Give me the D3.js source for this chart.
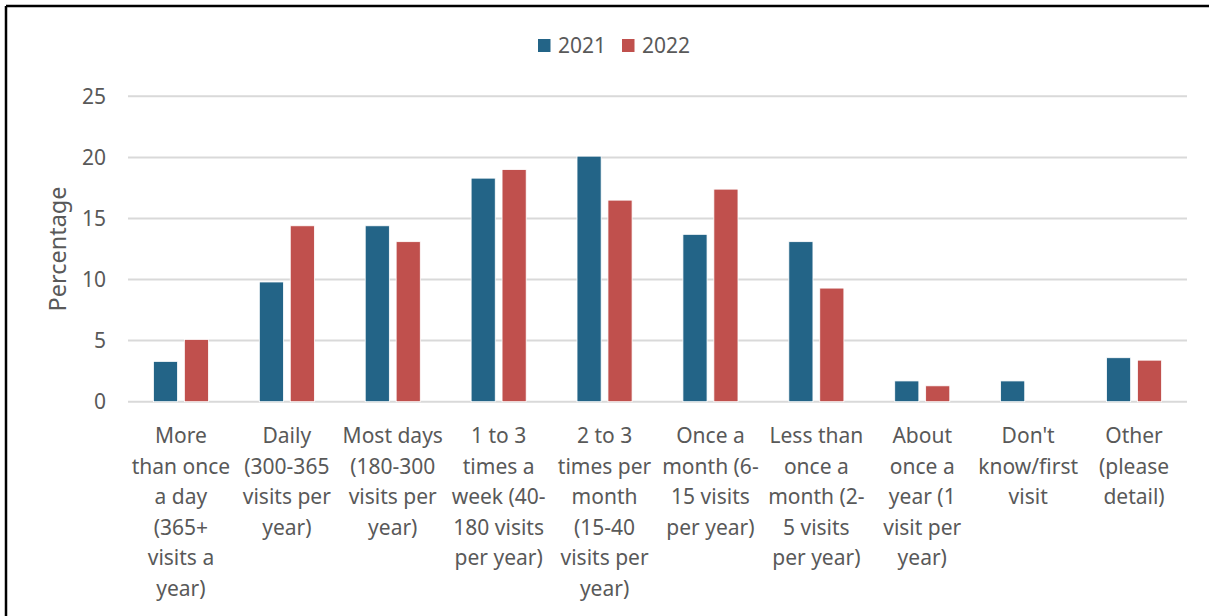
<!DOCTYPE html>
<html>
<head>
<meta charset="utf-8">
<script src="https://cdn.jsdelivr.net/npm/d3@7"></script>
<style>
  html, body { margin: 0; padding: 0; background: #fff; }
  svg { display: block; }
  text { font-family: "Noto Sans", "Open Sans", sans-serif; fill: #595959; }
</style>
</head>
<body>
<svg id="chart" width="1209" height="616"></svg>
<script>
const categories = [
  "More than once a day (365+ visits a year)",
  "Daily (300-365 visits per year)",
  "Most days (180-300 visits per year)",
  "1 to 3 times a week (40-180 visits per year)",
  "2 to 3 times per month (15-40 visits per year)",
  "Once a month (6-15 visits per year)",
  "Less than once a month (2-5 visits per year)",
  "About once a year (1 visit per year)",
  "Don't know/first visit",
  "Other (please detail)"
];
const categoryLines = [
  ["More", "than once", "a day", "(365+", "visits a", "year)"],
  ["Daily", "(300-365", "visits per", "year)"],
  ["Most days", "(180-300", "visits per", "year)"],
  ["1 to 3", "times a", "week (40-", "180 visits", "per year)"],
  ["2 to 3", "times per", "month", "(15-40", "visits per", "year)"],
  ["Once a", "month (6-", "15 visits", "per year)"],
  ["Less than", "once a", "month (2-", "5 visits", "per year)"],
  ["About", "once a", "year (1", "visit per", "year)"],
  ["Don't", "know/first", "visit"],
  ["Other", "(please", "detail)"]
];
const seriesNames = ["2021", "2022"];
const values2021 = [3.3, 9.8, 14.4, 18.3, 20.1, 13.7, 13.1, 1.7, 1.7, 3.6];
const values2022 = [5.1, 14.4, 13.1, 19.0, 16.5, 17.4, 9.3, 1.3, 0, 3.4];
const yTicks = [0, 5, 10, 15, 20, 25];
const colors = ["#236487", "#C0504D"];

(function () {
const svg = d3.select("#chart");

// border (top and left visible)
svg.append("line").attr("x1", 6).attr("x2", 1209).attr("y1", 6).attr("y2", 6)
  .attr("stroke", "#000").attr("stroke-width", 2.5);
svg.append("line").attr("x1", 6).attr("x2", 6).attr("y1", 6).attr("y2", 616)
  .attr("stroke", "#000").attr("stroke-width", 2.5);

const pLeft = 128, pRight = 1187, pTop = 96.3, pBottom = 401.7;

const x = d3.scaleBand().domain(d3.range(categories.length)).range([pLeft, pRight]).paddingInner(0.48).paddingOuter(0.24);
const xs = d3.scaleBand().domain([0, 1]).range([0, x.bandwidth()]).paddingInner(0.22);
const y = d3.scaleLinear().domain([0, 25]).range([pBottom, pTop]);

// gridlines
svg.append("g").selectAll("line").data(yTicks).join("line")
  .attr("x1", pLeft).attr("x2", pRight)
  .attr("y1", d => y(d)).attr("y2", d => y(d))
  .attr("stroke", "#d9d9d9").attr("stroke-width", 2);

// y axis labels
const yAxis = d3.axisLeft(y).tickValues(yTicks).tickSize(0).tickPadding(0);
const yg = svg.append("g").attr("transform", `translate(106,0)`).call(yAxis);
yg.select(".domain").remove();
yg.selectAll("text").attr("font-size", 21).style("font-family", '"Noto Sans", sans-serif').attr("fill", "#595959").attr("dy", "0.34em");

// y title
svg.append("text").attr("transform", `translate(66,${(pTop + pBottom) / 2}) rotate(-90)`)
  .attr("text-anchor", "middle").attr("font-size", 23.5).text("Percentage");

// bars
const data = categories.map((c, i) => [values2021[i], values2022[i]]);
const groups = svg.append("g").selectAll("g").data(data).join("g")
  .attr("transform", (d, i) => `translate(${x(i)},0)`);
groups.selectAll("rect").data(d => d.map((v, s) => ({ v, s })).filter(o => o.v > 0)).join("rect")
  .attr("x", d => xs(d.s))
  .attr("width", xs.bandwidth())
  .attr("y", d => y(d.v))
  .attr("height", d => pBottom - y(d.v))
  .attr("fill", d => colors[d.s])
  .attr("stroke", "#fff").attr("stroke-width", 0.8);

// x labels
const xg = svg.append("g");
categoryLines.forEach((lines, i) => {
  const cx = x(i) + x.bandwidth() / 2;
  const t = xg.append("text").attr("text-anchor", "middle").attr("font-size", 21);
  lines.forEach((ln, k) => {
    t.append("tspan").attr("x", cx).attr("y", 443 + k * 30.5).text(ln);
  });
});

// legend
const legend = svg.append("g");
const legendItems = [{ x: 538, name: seriesNames[0], c: colors[0] }, { x: 622, name: seriesNames[1], c: colors[1] }];
legendItems.forEach(it => {
  legend.append("rect").attr("x", it.x).attr("y", 39).attr("width", 12.5).attr("height", 13).attr("fill", it.c);
  legend.append("text").attr("x", it.x + 20).attr("y", 52.5).attr("font-size", 21).text(it.name);
});
})();
</script>
</body>
</html>
